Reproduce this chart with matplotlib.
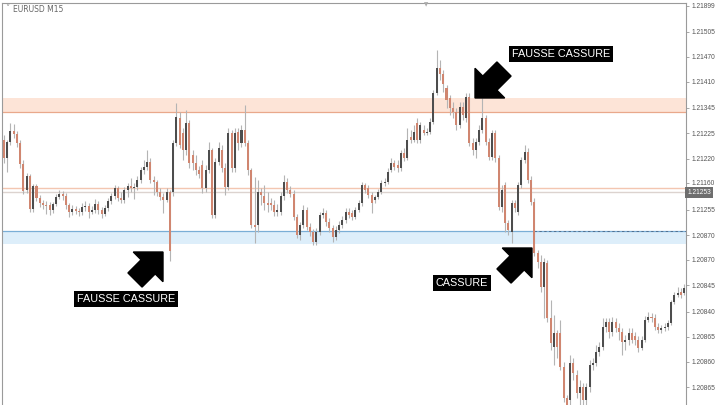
import matplotlib
matplotlib.use("Agg")
import matplotlib.pyplot as plt
from matplotlib.patches import FancyArrow
import numpy as np

# EURUSD M15 candles (open, close, high, low)
opens = [
    1.21860, 1.21842, 1.21858, 1.21869, 1.21866, 1.21857, 1.21836, 1.21810, 1.21824, 1.21791,
    1.21814, 1.21802, 1.21797, 1.21795, 1.21795, 1.21790, 1.21796, 1.21803, 1.21806, 1.21804,
    1.21795, 1.21788, 1.21791, 1.21789, 1.21788, 1.21793, 1.21794, 1.21788, 1.21790, 1.21796,
    1.21790, 1.21786, 1.21792, 1.21799, 1.21804, 1.21812,
    1.21802, 1.21800, 1.21810, 1.21814, 1.21812, 1.21813, 1.21820, 1.21830, 1.21833, 1.21838,
    1.21820, 1.21818, 1.21808, 1.21803, 1.21800, 1.21808,
    1.21808, 1.21857, 1.21882, 1.21867, 1.21850, 1.21877, 1.21845, 1.21837, 1.21830, 1.21835,
    1.21812, 1.21830, 1.21850, 1.21785, 1.21838, 1.21850, 1.21832, 1.21813,
    1.21867, 1.21832, 1.21868, 1.21857, 1.21870, 1.21857, 1.21830, 1.21775, 1.21775, 1.21808,
    1.21804, 1.21797, 1.21797, 1.21795, 1.21788, 1.21788, 1.21804, 1.21818, 1.21810, 1.21806,
    1.21783, 1.21765, 1.21775, 1.21790, 1.21773, 1.21768, 1.21758, 1.21768, 1.21785, 1.21787,
    1.21778, 1.21772, 1.21763, 1.21770, 1.21775, 1.21780,
    1.21788, 1.21787, 1.21783, 1.21790, 1.21797, 1.21815, 1.21812, 1.21805, 1.21800, 1.21803,
    1.21808, 1.21817, 1.21818, 1.21830, 1.21837, 1.21835, 1.21832, 1.21847, 1.21842, 1.21863,
    1.21860, 1.21877, 1.21860, 1.21870, 1.21867, 1.21868, 1.21878, 1.21907,
    1.21932, 1.21926, 1.21912, 1.21902, 1.21892, 1.21888, 1.21875, 1.21893, 1.21882, 1.21903,
    1.21857, 1.21850, 1.21858, 1.21870, 1.21882, 1.21858, 1.21843, 1.21867, 1.21842, 1.21793,
    1.21815, 1.21777, 1.21768, 1.21797, 1.21788, 1.21815, 1.21840, 1.21848, 1.21820, 1.21798,
    1.21747, 1.21738, 1.21713, 1.21737, 1.21682, 1.21653, 1.21667, 1.21667, 1.21633, 1.21602,
    1.21600, 1.21637, 1.21625, 1.21607, 1.21613, 1.21600, 1.21613, 1.21635, 1.21637, 1.21648,
    1.21653, 1.21673, 1.21678, 1.21668, 1.21678, 1.21672, 1.21668, 1.21658, 1.21660, 1.21667,
    1.21664, 1.21660, 1.21652, 1.21660, 1.21680, 1.21683, 1.21682, 1.21673, 1.21670, 1.21672,
    1.21673, 1.21677, 1.21698, 1.21705, 1.21708, 1.21707,
]
closes = [
    1.21842, 1.21858, 1.21869, 1.21866, 1.21857, 1.21836, 1.21809, 1.21824, 1.21791, 1.21814,
    1.21802, 1.21797, 1.21795, 1.21794, 1.21790, 1.21796, 1.21803, 1.21806, 1.21804, 1.21795,
    1.21788, 1.21791, 1.21789, 1.21788, 1.21793, 1.21794, 1.21788, 1.21790, 1.21796, 1.21790,
    1.21786, 1.21792, 1.21799, 1.21804, 1.21812, 1.21802,
    1.21800, 1.21810, 1.21814, 1.21812, 1.21813, 1.21820, 1.21830, 1.21833, 1.21838, 1.21820,
    1.21818, 1.21808, 1.21803, 1.21800, 1.21808, 1.21749,
    1.21857, 1.21883, 1.21855, 1.21850, 1.21877, 1.21837, 1.21837, 1.21830, 1.21826, 1.21812,
    1.21830, 1.21850, 1.21785, 1.21838, 1.21852, 1.21832, 1.21813, 1.21867,
    1.21832, 1.21867, 1.21857, 1.21870, 1.21857, 1.21830, 1.21775, 1.21773, 1.21808, 1.21805,
    1.21797, 1.21795, 1.21795, 1.21788, 1.21790, 1.21804, 1.21818, 1.21810, 1.21806, 1.21783,
    1.21765, 1.21775, 1.21790, 1.21773, 1.21768, 1.21758, 1.21768, 1.21785, 1.21787, 1.21778,
    1.21772, 1.21763, 1.21770, 1.21775, 1.21780, 1.21788,
    1.21785, 1.21783, 1.21790, 1.21797, 1.21815, 1.21810, 1.21805, 1.21797, 1.21803, 1.21808,
    1.21817, 1.21818, 1.21828, 1.21837, 1.21833, 1.21832, 1.21847, 1.21842, 1.21860, 1.21860,
    1.21868, 1.21860, 1.21875, 1.21867, 1.21868, 1.21878, 1.21907, 1.21932,
    1.21926, 1.21916, 1.21900, 1.21892, 1.21888, 1.21875, 1.21893, 1.21885, 1.21903, 1.21857,
    1.21850, 1.21858, 1.21870, 1.21882, 1.21858, 1.21843, 1.21867, 1.21842, 1.21793, 1.21810,
    1.21777, 1.21770, 1.21797, 1.21792, 1.21815, 1.21840, 1.21848, 1.21820, 1.21798, 1.21747,
    1.21738, 1.21713, 1.21738, 1.21682, 1.21657, 1.21667, 1.21653, 1.21633, 1.21602, 1.21595,
    1.21637, 1.21627, 1.21607, 1.21613, 1.21600, 1.21613, 1.21635, 1.21637, 1.21648, 1.21653,
    1.21673, 1.21678, 1.21668, 1.21678, 1.21672, 1.21668, 1.21658, 1.21660, 1.21667, 1.21660,
    1.21660, 1.21652, 1.21660, 1.21680, 1.21683, 1.21682, 1.21673, 1.21670, 1.21672, 1.21673,
    1.21677, 1.21698, 1.21705, 1.21707, 1.21705, 1.21712,
]
highs = [
    1.21865, 1.21860, 1.21877, 1.21876, 1.21869, 1.21860, 1.21840, 1.21827, 1.21826, 1.21816,
    1.21816, 1.21805, 1.21800, 1.21799, 1.21798, 1.21798, 1.21806, 1.21810, 1.21809, 1.21807,
    1.21797, 1.21795, 1.21794, 1.21792, 1.21797, 1.21799, 1.21797, 1.21794, 1.21801, 1.21799,
    1.21793, 1.21795, 1.21802, 1.21807, 1.21815, 1.21814,
    1.21808, 1.21813, 1.21817, 1.21822, 1.21817, 1.21824, 1.21833, 1.21840, 1.21850, 1.21842,
    1.21824, 1.21820, 1.21812, 1.21807, 1.21812, 1.21810,
    1.21860, 1.21897, 1.21888, 1.21872, 1.21890, 1.21880, 1.21850, 1.21845, 1.21834, 1.21840,
    1.21835, 1.21858, 1.21852, 1.21842, 1.21858, 1.21855, 1.21837, 1.21872,
    1.21870, 1.21872, 1.21872, 1.21875, 1.21895, 1.21860, 1.21832, 1.21823, 1.21820, 1.21812,
    1.21815, 1.21808, 1.21802, 1.21800, 1.21796, 1.21808, 1.21825, 1.21822, 1.21814, 1.21810,
    1.21786, 1.21778, 1.21795, 1.21793, 1.21777, 1.21771, 1.21772, 1.21788, 1.21792, 1.21790,
    1.21782, 1.21775, 1.21774, 1.21779, 1.21784, 1.21792,
    1.21792, 1.21790, 1.21793, 1.21800, 1.21818, 1.21817, 1.21815, 1.21808, 1.21805, 1.21811,
    1.21820, 1.21822, 1.21832, 1.21842, 1.21840, 1.21840, 1.21850, 1.21852, 1.21872, 1.21870,
    1.21875, 1.21882, 1.21878, 1.21875, 1.21872, 1.21882, 1.21910, 1.21950,
    1.21940, 1.21930, 1.21915, 1.21905, 1.21898, 1.21892, 1.21898, 1.21898, 1.21907, 1.21907,
    1.21862, 1.21862, 1.21875, 1.21902, 1.21885, 1.21862, 1.21870, 1.21870, 1.21845, 1.21815,
    1.21818, 1.21780, 1.21800, 1.21800, 1.21818, 1.21843, 1.21855, 1.21852, 1.21824, 1.21802,
    1.21750, 1.21745, 1.21742, 1.21740, 1.21700, 1.21685, 1.21670, 1.21680, 1.21638, 1.21605,
    1.21645, 1.21642, 1.21630, 1.21620, 1.21617, 1.21617, 1.21640, 1.21642, 1.21655, 1.21658,
    1.21682, 1.21682, 1.21682, 1.21683, 1.21682, 1.21677, 1.21672, 1.21665, 1.21672, 1.21672,
    1.21668, 1.21664, 1.21664, 1.21684, 1.21688, 1.21687, 1.21686, 1.21677, 1.21675, 1.21677,
    1.21680, 1.21700, 1.21708, 1.21713, 1.21712, 1.21716,
]
lows = [
    1.21837, 1.21828, 1.21855, 1.21862, 1.21853, 1.21832, 1.21806, 1.21807, 1.21788, 1.21788,
    1.21799, 1.21793, 1.21791, 1.21786, 1.21785, 1.21787, 1.21794, 1.21801, 1.21800, 1.21791,
    1.21783, 1.21785, 1.21786, 1.21784, 1.21785, 1.21789, 1.21782, 1.21786, 1.21787, 1.21786,
    1.21782, 1.21784, 1.21789, 1.21796, 1.21801, 1.21799,
    1.21797, 1.21797, 1.21803, 1.21808, 1.21801, 1.21810, 1.21817, 1.21826, 1.21830, 1.21817,
    1.21805, 1.21804, 1.21800, 1.21787, 1.21798, 1.21739,
    1.21804, 1.21854, 1.21852, 1.21840, 1.21845, 1.21832, 1.21830, 1.21825, 1.21822, 1.21807,
    1.21808, 1.21827, 1.21782, 1.21782, 1.21835, 1.21828, 1.21805, 1.21810,
    1.21828, 1.21828, 1.21850, 1.21853, 1.21854, 1.21825, 1.21772, 1.21757, 1.21768, 1.21795,
    1.21790, 1.21788, 1.21790, 1.21784, 1.21784, 1.21785, 1.21800, 1.21807, 1.21803, 1.21780,
    1.21762, 1.21760, 1.21772, 1.21770, 1.21764, 1.21755, 1.21755, 1.21765, 1.21782, 1.21774,
    1.21768, 1.21758, 1.21760, 1.21767, 1.21772, 1.21777,
    1.21782, 1.21780, 1.21781, 1.21788, 1.21794, 1.21807, 1.21802, 1.21787, 1.21797, 1.21801,
    1.21806, 1.21814, 1.21816, 1.21828, 1.21830, 1.21828, 1.21829, 1.21839, 1.21840, 1.21857,
    1.21858, 1.21857, 1.21857, 1.21865, 1.21865, 1.21866, 1.21876, 1.21905,
    1.21920, 1.21908, 1.21892, 1.21885, 1.21882, 1.21870, 1.21872, 1.21880, 1.21878, 1.21854,
    1.21845, 1.21842, 1.21855, 1.21867, 1.21855, 1.21840, 1.21840, 1.21838, 1.21790, 1.21788,
    1.21768, 1.21765, 1.21757, 1.21788, 1.21785, 1.21812, 1.21837, 1.21817, 1.21795, 1.21744,
    1.21732, 1.21708, 1.21682, 1.21678, 1.21650, 1.21635, 1.21642, 1.21630, 1.21598, 1.21590,
    1.21592, 1.21620, 1.21602, 1.21595, 1.21590, 1.21590, 1.21608, 1.21630, 1.21634, 1.21644,
    1.21650, 1.21668, 1.21662, 1.21664, 1.21668, 1.21660, 1.21645, 1.21650, 1.21655, 1.21657,
    1.21655, 1.21648, 1.21650, 1.21658, 1.21678, 1.21678, 1.21670, 1.21667, 1.21667, 1.21669,
    1.21670, 1.21675, 1.21696, 1.21703, 1.21702, 1.21705,
]

# right-hand price scale as printed on the screenshot
tick_prices = [1.21994, 1.21968, 1.21943, 1.21918, 1.21892, 1.21867, 1.21841, 1.21817,
               1.21790, 1.21765, 1.21740, 1.21715, 1.21688, 1.21663, 1.21638, 1.21613]
tick_labels = ["1.21899", "1.21505", "1.21470", "1.21410", "1.21345", "1.21225", "1.21220",
               "1.21160", "1.21255", "1.20870", "1.20870", "1.20845", "1.20840", "1.20865",
               "1.20860", "1.20865"]
current_price = 1.21807
current_label = "1.21253"

resistance_zone = (1.21888, 1.21902)
support_zone = (1.21756, 1.21769)
mid_lines = [1.21812, 1.21808]
breakout_index = 163

o = np.array(opens)
c = np.array(closes)
h = np.array(highs)
l = np.array(lows)
x = np.arange(len(o))
up = c >= o

fig = plt.figure(figsize=(7.2, 4.05), dpi=100)
ax = fig.add_axes([2 / 720, 0, 684 / 720, 402 / 405])

# zones
ax.axhspan(*resistance_zone, color="#fde4d7", lw=0, zorder=0)
ax.axhline(resistance_zone[0], color="#e9a88b", lw=0.9, zorder=1)
ax.axhline(mid_lines[0], color="#f3c6b1", lw=1.0, zorder=1)
ax.axhline(mid_lines[1], color="#dcd3cf", lw=1.0, zorder=1)
ax.axhspan(*support_zone, color="#ddeefa", lw=0, zorder=0)
ax.axhline(support_zone[1], color="#7aaed6", lw=0.9, zorder=1)
ax.hlines(support_zone[1], breakout_index, len(o) + 5, colors="#4f6f8f", lw=0.7,
          linestyles=(0, (2.5, 2.5)), zorder=2)

# candles
ax.vlines(x, l, h, color="#b4b4b4", lw=0.8, zorder=3)
body_lo = np.minimum(o, c)
body_h = np.maximum(np.abs(c - o), 0.000012)
ax.bar(x[up], body_h[up], bottom=body_lo[up], width=0.62, color="#4d4d4d", zorder=4)
ax.bar(x[~up], body_h[~up], bottom=body_lo[~up], width=0.62, color="#d08670", zorder=4)

ax.set_xlim(-0.6, len(o) - 0.4)
ax.set_ylim(1.21595, 1.21997)
ax.set_xticks([])
ax.yaxis.tick_right()
ax.set_yticks(tick_prices)
ax.set_yticklabels(tick_labels, family="Liberation Sans")
ax.tick_params(axis="y", length=2.5, width=0.6, color="#999999", labelsize=4.8,
               labelcolor="#555555", pad=1.5)
for side in ["left", "top", "right"]:
    ax.spines[side].set_color("#9a9a9a")
    ax.spines[side].set_linewidth(0.8)
ax.spines["bottom"].set_visible(False)

ax.text(1.002, current_price, current_label, transform=ax.get_yaxis_transform(),
        fontsize=4.8, family="Liberation Sans", color="white", va="center", ha="left",
        bbox=dict(boxstyle="square,pad=0.3", fc="#6e6e6e", ec="none"))

# header
fig.text(5 / 720, 1 - 9 / 405, "˅", fontsize=6, color="#888888", va="center")
fig.text(13 / 720, 1 - 9 / 405, "EURUSD M15", fontsize=5.5, color="#666666", va="center")
fig.text(426 / 720, 1 - 5 / 405, "▼", fontsize=4, color="#aaaaaa", ha="center", va="center")

# annotations
def label(xp, yp, s):
    fig.text(xp / 720, 1 - yp / 405, s, fontsize=7.8, color="white", ha="center", va="center",
             family="Liberation Sans",
             bbox=dict(boxstyle="square,pad=0.3", fc="black", ec="none"))

label(561, 54, "FAUSSE CASSURE")
label(126, 299, "FAUSSE CASSURE")
label(462, 283, "CASSURE")

def arrow(tail, tip):
    x0, y0 = tail[0] / 100, (405 - tail[1]) / 100
    dx, dy = (tip[0] - tail[0]) / 100, -(tip[1] - tail[1]) / 100
    fig.add_artist(FancyArrow(x0, y0, dx, dy, width=0.20, head_width=0.42, head_length=0.21,
                              length_includes_head=True, color="black",
                              transform=fig.dpi_scale_trans))

arrow((504, 69), (475, 98))
arrow((135, 280), (163, 252))
arrow((504, 276), (532, 248))

fig.savefig("out.png", dpi=100)
